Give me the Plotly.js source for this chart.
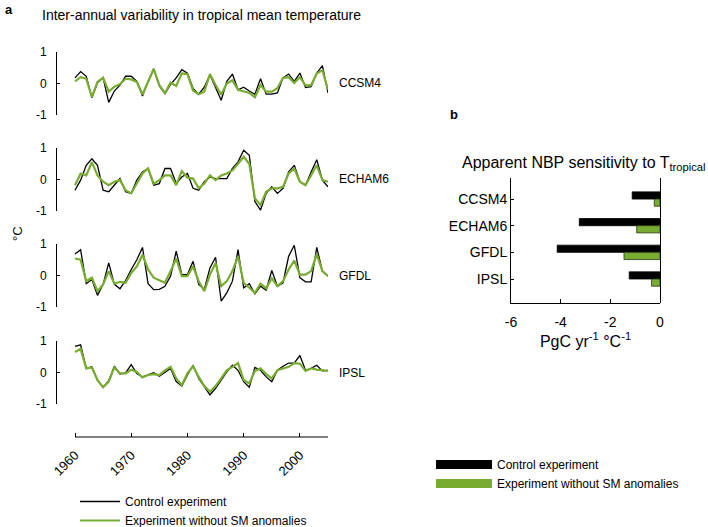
<!DOCTYPE html>
<html><head><meta charset="utf-8">
<script src="https://cdn.plot.ly/plotly-3.0.1.min.js"></script>
<style>html,body{margin:0;padding:0;background:#fff}</style>
</head><body>
<div id="chart" style="width:708px;height:527px"></div>
<script>
const years = [1960,1961,1962,1963,1964,1965,1966,1967,1968,1969,1970,1971,1972,1973,1974,1975,1976,1977,1978,1979,1980,1981,1982,1983,1984,1985,1986,1987,1988,1989,1990,1991,1992,1993,1994,1995,1996,1997,1998,1999,2000,2001,2002,2003,2004,2005];
const models = ["CCSM4","ECHAM6","GFDL","IPSL"];

const ccsm4Control = [0.18,0.38,0.23,-0.45,0.02,0.18,-0.6,-0.24,-0.05,0.23,0.23,0.07,-0.4,0.07,0.47,-0.08,-0.32,-0.03,0.18,0.44,0.33,-0.16,-0.34,-0.12,0.28,-0.14,-0.53,0.07,0.3,-0.2,-0.12,-0.24,-0.34,0.15,-0.34,-0.34,-0.3,0.18,0.3,0.07,0.33,-0.13,-0.1,0.33,0.57,-0.3];
const ccsm4NoSM = [0.07,0.2,0.15,-0.43,0.05,0.18,-0.26,-0.1,-0.02,0.15,0.13,0.05,-0.35,0.05,0.46,-0.05,-0.3,0.03,-0.08,0.32,0.3,-0.22,-0.34,-0.26,0.3,-0.05,-0.35,0.0,0.1,-0.2,-0.24,-0.3,-0.44,-0.05,-0.26,-0.26,-0.15,0.18,0.2,0.02,0.2,-0.06,-0.05,0.32,0.42,-0.2];

const echamControl = [-0.34,-0.02,0.45,0.66,0.45,-0.34,-0.39,-0.18,0.03,-0.39,-0.44,-0.02,0.24,0.35,-0.18,-0.13,0.35,0.35,-0.13,0.08,0.19,-0.28,-0.34,-0.07,0.08,0.03,0.03,0.03,0.35,0.56,0.93,0.77,-0.7,-0.97,-0.44,-0.23,-0.44,-0.28,0.24,0.45,-0.07,-0.18,0.24,0.63,-0.02,-0.23];
const echamNoSM = [-0.18,0.19,0.13,0.55,0.13,-0.07,-0.18,-0.07,-0.02,-0.34,-0.44,-0.13,0.19,0.35,-0.13,-0.02,0.13,0.13,-0.18,0.27,0.06,0.03,-0.28,-0.13,0.13,-0.02,0.13,0.19,0.29,0.5,0.72,0.5,-0.6,-0.81,-0.39,-0.28,-0.28,-0.23,0.19,0.35,-0.07,-0.18,0.13,0.45,-0.02,-0.07];

const gfdlControl = [0.68,0.82,-0.26,-0.13,-0.63,-0.28,0.4,-0.28,-0.42,-0.16,0.19,0.5,0.89,-0.26,-0.45,-0.44,-0.34,-0.02,0.77,0.03,0.03,0.45,-0.28,-0.44,0.24,0.58,-0.81,-0.55,-0.18,0.82,-0.39,-0.26,-0.58,-0.34,-0.47,0.16,-0.34,-0.23,0.61,0.96,-0.07,-0.2,-0.2,0.89,0.14,-0.02];
const gfdlNoSM = [0.54,0.5,-0.18,-0.07,-0.5,-0.28,0.14,-0.26,-0.2,-0.23,0.08,0.29,0.66,0.19,-0.07,-0.16,-0.23,0.14,0.54,-0.02,-0.02,0.29,-0.18,-0.5,0.03,0.4,-0.34,-0.18,0.14,0.61,-0.23,-0.39,-0.55,-0.26,-0.41,-0.09,-0.34,-0.18,0.19,0.47,0.03,0.03,0.14,0.68,0.14,-0.02];

const ipslControl = [0.83,0.88,0.13,0.18,-0.24,-0.47,-0.26,0.2,-0.05,-0.01,0.25,-0.03,-0.14,-0.08,-0.01,-0.12,0.02,0.13,-0.29,-0.43,-0.08,0.23,-0.19,-0.45,-0.71,-0.5,-0.24,0.02,0.23,0.07,-0.29,-0.47,0.16,0.07,-0.14,-0.29,0.07,0.2,0.3,0.3,0.54,0.07,0.13,0.23,0.05,0.07];
const ipslNoSM = [0.65,0.75,0.13,0.16,-0.24,-0.47,-0.29,0.16,-0.03,-0.03,0.09,0.02,-0.16,-0.08,-0.05,-0.08,0.07,0.18,-0.19,-0.4,-0.03,0.2,-0.14,-0.43,-0.61,-0.43,-0.19,0.07,0.18,0.3,-0.24,-0.35,0.05,0.13,-0.05,-0.19,0.07,0.13,0.18,0.3,0.28,0.05,0.13,0.09,0.07,0.05];

const nbpControl = [-1.12,-3.25,-4.14,-1.24];
const nbpNoSM = [-0.23,-0.94,-1.45,-0.34];

const yearTicks = [1960,1970,1980,1990,2000];
const tempTicks = [-1,0,1];
const tempTickText = ["-1","0","1"];
const nbpTicks = [-6,-4,-2,0];
const nbpTickText = ["-6","-4","-2","0"];

const BLACK = "#000000";
const GREEN = "#77AC30";
const FONT = "Liberation Sans, Arial, Helvetica, sans-serif";

const controlSeries = [ccsm4Control, echamControl, gfdlControl, ipslControl];
const noSMSeries = [ccsm4NoSM, echamNoSM, gfdlNoSM, ipslNoSM];
const yNames = ["y","y2","y3","y4"];
const domainsPx = [[52,115],[148,211],[244,307],[341,404]];
const H = 527, W = 708;
// left plot: y-axis line at 57px, 1960 at 75px, 2005 at 328px
const pxPerYear = (328 - 75) / (years[years.length-1] - years[0]);
const xStart = years[0] - (75 - 57) / pxPerYear;
const xAxisY = 1 - 437/H;

const traces = [];
for (let k = 0; k < 4; k++) {
  traces.push({x: years, y: controlSeries[k], type: "scatter", mode: "lines",
    xaxis: "x", yaxis: yNames[k], line: {color: BLACK, width: 1.3},
    name: "Control experiment", legend: "legend", showlegend: k === 0, hoverinfo: "skip"});
}
for (let k = 0; k < 4; k++) {
  traces.push({x: years, y: noSMSeries[k], type: "scatter", mode: "lines",
    xaxis: "x", yaxis: yNames[k], line: {color: GREEN, width: 2.2},
    name: "Experiment without SM anomalies", legend: "legend", showlegend: k === 0, hoverinfo: "skip"});
}
traces.push({x: nbpControl, y: models, type: "bar", orientation: "h",
  xaxis: "x2", yaxis: "y5", marker: {color: BLACK, line: {color: BLACK, width: 0.8}},
  name: "Control experiment", showlegend: false});
traces.push({x: nbpNoSM, y: models, type: "bar", orientation: "h",
  xaxis: "x2", yaxis: "y5", marker: {color: GREEN, line: {color: "#2a3a10", width: 0.8}},
  name: "Experiment without SM anomalies", showlegend: false});
// legend keys for the bar panel (wide rectangles)
traces.push({x: [null], y: [null], type: "scatter", mode: "lines", xaxis: "x2", yaxis: "y5",
  line: {color: BLACK, width: 9}, name: "Control experiment", legend: "legend2", hoverinfo: "skip"});
traces.push({x: [null], y: [null], type: "scatter", mode: "lines", xaxis: "x2", yaxis: "y5",
  line: {color: GREEN, width: 9}, name: "Experiment without SM anomalies", legend: "legend2", hoverinfo: "skip"});

const layout = {
  width: W, height: H,
  margin: {l: 0, r: 0, t: 0, b: 0, autoexpand: false},
  paper_bgcolor: "#fff", plot_bgcolor: "rgba(0,0,0,0)",
  font: {family: FONT, size: 12, color: "#000"},
  showlegend: true,
  barmode: "group", bargap: 0.46, bargroupgap: 0.0,
  xaxis: {domain: [57/W, 328/W], range: [xStart, years[years.length-1]], anchor: "free", position: xAxisY,
    showline: false, ticks: "inside", ticklen: 4, tickcolor: BLACK, tickwidth: 1,
    tickvals: yearTicks, tickangle: -45, ticklabelstandoff: 7, showgrid: false, zeroline: false,
    tickfont: {size: 13}, automargin: false},
  xaxis2: {domain: [511/W, 660/W], range: [-6, 0], anchor: "y5",
    showline: true, linecolor: BLACK, linewidth: 1, ticks: "inside", ticklen: 4, tickcolor: BLACK,
    tickvals: nbpTicks, ticktext: nbpTickText, showgrid: false,
    zeroline: true, zerolinecolor: BLACK, zerolinewidth: 1,
    tickfont: {size: 14}, ticklabelstandoff: 6, automargin: false,
    title: {text: "PgC yr<sup>-1</sup> °C<sup>-1</sup>", font: {size: 16}, standoff: 6}},
  yaxis5: {domain: [1 - 303/H, 1 - 178/H], anchor: "x2", type: "category",
    categoryarray: models, range: [3.9, -0.79],
    showline: true, linecolor: BLACK, linewidth: 1, ticks: "inside", ticklen: 3, tickcolor: BLACK,
    showgrid: false, zeroline: false, tickfont: {size: 14}, automargin: false},
  legend: {x: 75/W, y: 1 - 487/H, xanchor: "left", yanchor: "top",
    bgcolor: "rgba(0,0,0,0)", font: {size: 12}, tracegroupgap: 0, itemwidth: 40},
  legend2: {x: 431/W, y: 1 - 450/H, xanchor: "left", yanchor: "top",
    bgcolor: "rgba(0,0,0,0)", font: {size: 12}, tracegroupgap: 0, itemwidth: 56},
  shapes: [
    {type: "line", xref: "x", yref: "paper", x0: years[0], x1: years[years.length-1], y0: xAxisY, y1: xAxisY,
     line: {color: BLACK, width: 1}}
  ],
  annotations: [
    {text: "<b>a</b>", x: 3/W, y: 1 - 9/H, xref: "paper", yref: "paper", xanchor: "left", yanchor: "middle", showarrow: false, font: {size: 13}},
    {text: "Inter-annual variability in tropical mean temperature", x: 40/W, y: 1 - 15/H, xref: "paper", yref: "paper", xanchor: "left", yanchor: "middle", showarrow: false, font: {size: 14}},
    {text: "<b>b</b>", x: 448/W, y: 1 - 114/H, xref: "paper", yref: "paper", xanchor: "left", yanchor: "middle", showarrow: false, font: {size: 13}},
    {text: "Apparent NBP sensitivity to T<sub>tropical</sub>", x: 584/W, y: 1 - 163/H, xref: "paper", yref: "paper", xanchor: "center", yanchor: "middle", showarrow: false, font: {size: 16}},
    {text: "°C", x: 17/W, y: 1 - 234/H, xref: "paper", yref: "paper", xanchor: "center", yanchor: "middle", textangle: -90, showarrow: false, font: {size: 13}}
  ]
};
for (let k = 0; k < 4; k++) {
  const key = k === 0 ? "yaxis" : "yaxis" + (k + 1);
  layout[key] = {domain: [1 - domainsPx[k][1]/H, 1 - domainsPx[k][0]/H], range: [-1, 1],
    anchor: "x",
    showline: true, linecolor: BLACK, linewidth: 1, ticks: "inside", ticklen: 3, tickcolor: BLACK,
    tickvals: tempTicks, ticktext: tempTickText, showgrid: false, zeroline: false,
    tickfont: {size: 12}, ticklabelstandoff: 7, automargin: false};
  layout.annotations.push({text: models[k], x: 337/W, y: 0, xref: "paper", yref: yNames[k],
    xanchor: "left", yanchor: "middle", showarrow: false, font: {size: 12}});
}

Plotly.newPlot("chart", traces, layout, {displayModeBar: false, staticPlot: true});
</script>
</body></html>
